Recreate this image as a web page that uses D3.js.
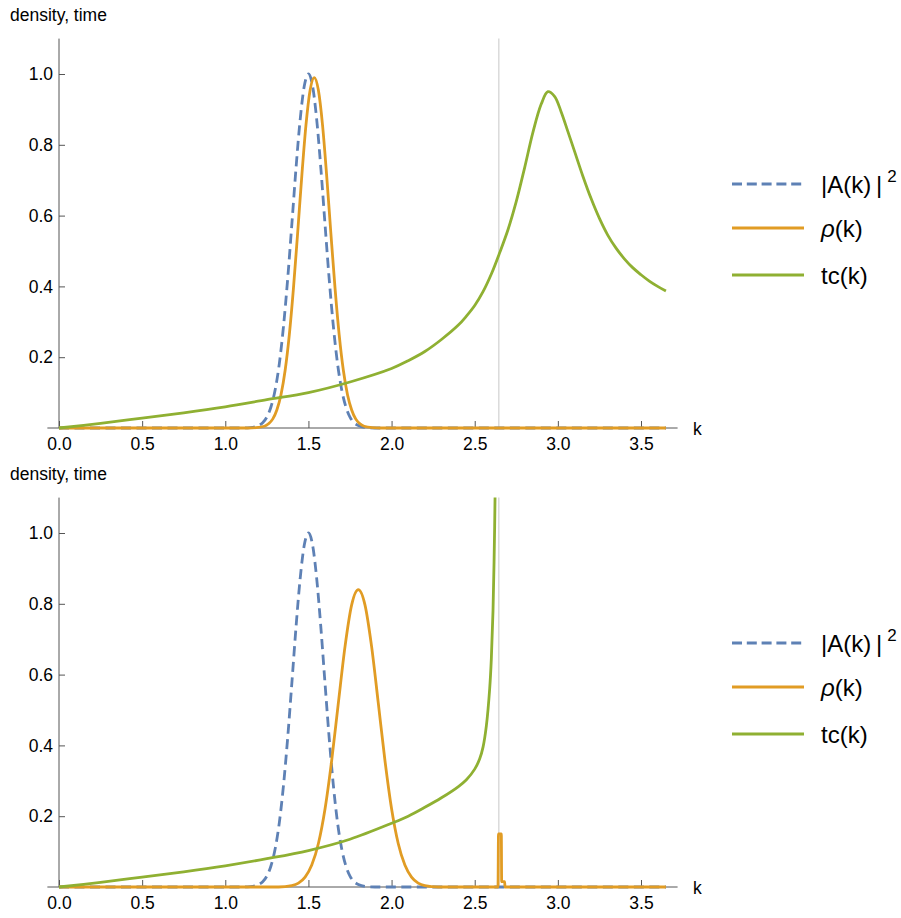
<!DOCTYPE html>
<html>
<head>
<meta charset="utf-8">
<script src="https://cdn.jsdelivr.net/npm/d3@7/dist/d3.min.js"></script>
<style>
  body { margin: 0; background: #fff; }
  svg text { font-family: "Liberation Sans", Arial, sans-serif; fill: #000; }
</style>
</head>
<body>
<svg id="graph"></svg>
<script>
// ---- data ----
// tick labels
var xMajor = [0.0, 0.5, 1.0, 1.5, 2.0, 2.5, 3.0, 3.5];
var yMajor = [0.2, 0.4, 0.6, 0.8, 1.0];
var legendNames = ["|A(k)\u2009|", "\u03c1(k)", "tc(k)"];
var kCritical = 2.645;   // grey vertical marker

// |A(k)|^2, same in both panels  [k, value]
var ampSq = [[0,0],[1.1,0],[1.15,0.001],[1.2,0.007],[1.225,0.015],[1.25,0.031],[1.275,0.06],[1.3,0.108],
  [1.325,0.182],[1.35,0.287],[1.375,0.42],[1.4,0.574],[1.425,0.732],[1.45,0.87],[1.475,0.966],[1.5,1.0],
  [1.525,0.966],[1.55,0.87],[1.575,0.732],[1.6,0.574],[1.625,0.42],[1.65,0.287],[1.675,0.182],[1.7,0.108],
  [1.725,0.06],[1.75,0.031],[1.775,0.015],[1.8,0.007],[1.85,0.001],[1.9,0],[3.65,0]];

// rho(k), top panel
var rhoTop = [[0,0],[1.135,0],[1.185,0.001],[1.235,0.005],[1.26,0.012],[1.285,0.025],[1.31,0.051],[1.335,0.094],
  [1.36,0.163],[1.385,0.263],[1.41,0.395],[1.435,0.55],[1.46,0.711],[1.485,0.855],[1.51,0.954],[1.535,0.99],
  [1.56,0.954],[1.585,0.855],[1.61,0.711],[1.635,0.55],[1.66,0.395],[1.685,0.263],[1.71,0.163],[1.735,0.094],
  [1.76,0.051],[1.785,0.025],[1.81,0.012],[1.835,0.005],[1.885,0.001],[1.935,0],[3.65,0]];

// rho(k), bottom panel
var rhoBottom = [[0,0],[1.32,0],[1.4,0.004],[1.44,0.011],[1.48,0.028],[1.52,0.062],[1.56,0.123],[1.6,0.221],
  [1.64,0.358],[1.68,0.52],[1.72,0.679],[1.76,0.797],[1.8,0.84],[1.84,0.797],[1.88,0.679],[1.92,0.52],
  [1.96,0.358],[2.0,0.221],[2.04,0.123],[2.08,0.062],[2.12,0.028],[2.16,0.011],[2.2,0.004],[2.28,0],
  [2.64,0],[2.643,0.15],[2.66,0.15],[2.662,0.015],[2.68,0.015],[2.682,0],[3.65,0]];

// tc(k), top panel
var tcTop = [[0,0],[0.25,0.013],[0.5,0.028],[0.75,0.043],[1.0,0.06],[1.25,0.08],[1.5,0.1],[1.75,0.13],
  [2.0,0.168],[2.1,0.19],[2.2,0.216],[2.3,0.25],[2.4,0.29],[2.45,0.316],[2.5,0.346],[2.55,0.385],[2.6,0.435],
  [2.65,0.495],[2.7,0.56],[2.75,0.64],[2.8,0.735],[2.85,0.835],[2.9,0.915],[2.94,0.95],[2.98,0.937],
  [3.02,0.893],[3.06,0.838],[3.1,0.782],[3.15,0.712],[3.2,0.648],[3.25,0.592],[3.3,0.545],[3.35,0.508],
  [3.4,0.478],[3.45,0.453],[3.5,0.433],[3.55,0.415],[3.6,0.4],[3.65,0.387]];

// tc(k), bottom panel (diverges near kCritical)
var tcBottom = [[0,0],[0.25,0.013],[0.5,0.028],[0.75,0.043],[1.0,0.06],[1.25,0.08],[1.5,0.103],[1.75,0.135],
  [2.0,0.18],[2.1,0.2],[2.2,0.225],[2.3,0.252],[2.4,0.283],[2.45,0.303],[2.5,0.333],[2.53,0.362],[2.55,0.395],
  [2.57,0.455],[2.59,0.56],[2.6,0.645],[2.61,0.78],[2.62,1.02],[2.625,1.22]];

var colors = ["#5e81b5", "#e19c24", "#8fb032"];

// ---- layout ----
width = 901;
height = 918;
panelShift = 459;

svg = d3.select("#graph")
    .attr("width", width)
    .attr("height", height);

x = d3.scaleLinear().domain([0, 3.5]).range([59, 641]);

// smooth curve for tc, shape-preserving one for the densities
curves = [d3.curveMonotoneX, d3.curveMonotoneX, d3.curveCatmullRom.alpha(0.5)];

drawPanel = function(idx, series) {
    var off = idx * panelShift;
    var y = d3.scaleLinear().domain([0, 1]).range([428 + off, 74 + off]);
    var g = svg.append("g");

    // clip to plot range
    var clipId = "clip" + idx;
    g.append("clipPath").attr("id", clipId)
      .append("rect")
        .attr("x", x(-0.1)).attr("y", y(1.1))
        .attr("width", x(3.8) - x(-0.1))
        .attr("height", y(0) - y(1.1) + 4);

    // grey marker
    g.append("line")
        .attr("x1", x(kCritical)).attr("x2", x(kCritical))
        .attr("y1", y(1.1)).attr("y2", y(0))
        .attr("style", "stroke:#d4d4d4; stroke-width:1.3");

    // axes lines
    g.append("line")
        .attr("x1", x(-0.07)).attr("x2", x(3.72))
        .attr("y1", y(0)).attr("y2", y(0))
        .attr("style", "stroke:#555; stroke-width:1");
    g.append("line")
        .attr("x1", x(0)).attr("x2", x(0))
        .attr("y1", y(0)).attr("y2", y(1.1))
        .attr("style", "stroke:#555; stroke-width:1");

    // ticks
    var xMinor = d3.range(1, 38).map( (i) => i / 10 ).filter( (v) => Math.round(v * 10) % 5 != 0 );
    var gx = g.append("g").attr("transform", "translate(0," + y(0) + ")");
    gx.call(d3.axisBottom(x).tickValues(xMinor).tickSize(-4).tickFormat(""));
    gx.call(d3.axisBottom(x).tickValues(xMajor).tickSize(-7).tickPadding(10).tickFormat(d3.format(".1f")));
    var gyMinor = d3.range(1, 22).map( (i) => i / 20 ).filter( (v) => Math.round(v * 20) % 4 != 0 );
    var gy = g.append("g").attr("transform", "translate(" + x(0) + ",0)");
    gy.call(d3.axisLeft(y).tickValues(gyMinor).tickSize(-4).tickFormat(""));
    gy.call(d3.axisLeft(y).tickValues(yMajor).tickSize(-6).tickPadding(6).tickFormat(d3.format(".1f")));
    svg.selectAll(".domain").remove();
    g.selectAll(".tick line").attr("stroke", "#555");
    g.selectAll(".tick text").attr("style", "font-size:17.5px").attr("fill", "#000");

    // axis labels
    g.append("text").attr("x", 10).attr("y", 21 + off)
        .attr("style", "font-size:17.5px").text("density, time");
    g.append("text").attr("x", 693).attr("y", 435 + off)
        .attr("style", "font-size:17.5px").text("k");

    // curves
    var plot = g.append("g").attr("clip-path", "url(#" + clipId + ")");
    series.forEach(function(s, i) {
        var line = d3.line()
            .x( (d) => x(d[0]) )
            .y( (d) => y(d[1]) )
            .curve(curves[i]);
        plot.append("path")
            .datum(s)
            .attr("d", line)
            .attr("fill", "none")
            .attr("stroke", colors[i])
            .attr("stroke-width", 2.8)
            .attr("stroke-dasharray", i == 0 ? "10,5.5" : null);
    });

    // legend
    var lg = g.append("g");
    legendNames.forEach(function(name, i) {
        var ly = 184 + off + [0, 44, 91][i];
        lg.append("line")
            .attr("x1", 732).attr("x2", 804)
            .attr("y1", ly).attr("y2", ly)
            .attr("stroke", colors[i]).attr("stroke-width", 2.8)
            .attr("stroke-dasharray", i == 0 ? "10,4.8" : null);
        var t = lg.append("text").attr("x", 821).attr("y", ly + 9)
            .attr("style", "font-size:24px");
        if (i == 1) {
            t.append("tspan").attr("style", "font-style:italic").text("\u03c1");
            t.append("tspan").text("(k)");
        } else {
            t.append("tspan").text(name);
        }
        if (i == 0) {
            t.append("tspan").attr("dx", 5).attr("dy", -11)
                .attr("style", "font-size:17px").text("2");
        }
    });
};

drawPanel(0, [ampSq, rhoTop, tcTop]);
drawPanel(1, [ampSq, rhoBottom, tcBottom]);
</script>
</body>
</html>
